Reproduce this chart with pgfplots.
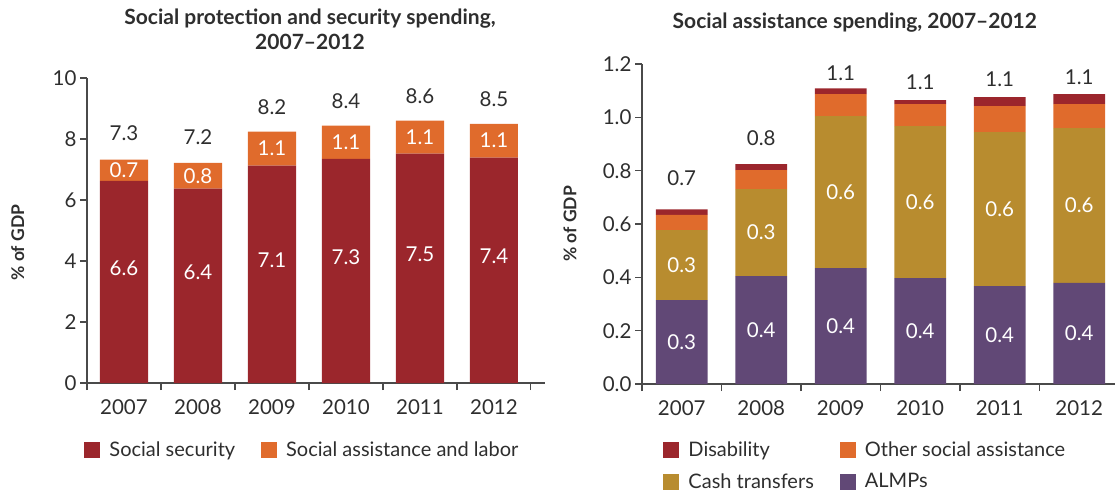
\documentclass[border=0pt]{standalone}
\usepackage{pgfplots}
\pgfplotsset{compat=1.18}
\usepackage{fontspec}
\setmainfont{Lato}
\definecolor{ssred}{HTML}{9B262C}
\definecolor{sorange}{HTML}{E06B2C}
\definecolor{cashgold}{HTML}{B88C2F}
\definecolor{almp}{HTML}{614876}
\definecolor{txt}{HTML}{2E2E2E}
\definecolor{axisgray}{HTML}{4A4A4A}
\pgfplotsset{
  sqlegend/.style={legend image code/.code={\fill[##1] (0pt,-8pt) rectangle (16pt,8pt);}},
  midlabels/.style={nodes near coords, point meta=explicit symbolic,
    nodes near coords style={anchor=center, text=white, font=\fontsize{20.5}{22}\selectfont}},
  toplabels/.style={nodes near coords, point meta=explicit symbolic, draw=none, fill=none, forget plot,
    nodes near coords style={anchor=center, text=txt, font=\fontsize{20.5}{22}\selectfont}},
  common/.style={
    scale only axis,
    clip=false,
    ybar stacked,
    bar width=0.65,
    axis x line*=bottom, axis y line*=left,
    axis line style={-, axisgray, line width=1.1pt},
    xmin=-0.5, ymin=0,
    xtick={-0.5,0.5,...,5.5}, xticklabels={},
    extra x ticks={0,1,2,3,4,5},
    extra x tick labels={2007,2008,2009,2010,2011,2012},
    extra x tick style={major tick length=0pt},
    xticklabel style={yshift=-13pt},
    tick align=outside, major tick length=7pt,
    every tick/.style={axisgray, line width=1.1pt},
    /pgf/number format/assume math mode=true,
    tick label style={font=\fontsize{20.5}{22}\selectfont, text=txt},
    ylabel style={font=\fontsize{17.5}{20}\selectfont\bfseries, text=txt, anchor=center},
    title style={font=\fontsize{21}{25}\selectfont\bfseries, text=txt, align=center},
    legend cell align=left,
    legend style={draw=none, fill=none, font=\fontsize{20}{22}\selectfont, text=txt,
      legend columns=2, row sep=11pt, inner sep=0pt,
      /tikz/every odd column/.append style={column sep=7pt},
      /tikz/every even column/.append style={column sep=24pt}},
  },
}
\begin{document}
\begin{tikzpicture}[x=1pt,y=1pt]
\path[use as bounding box] (0,0) rectangle (1115,493);
% Left chart
\begin{axis}[common, at={(87pt,110pt)}, anchor=south west, width=458pt, height=305pt,
  xmax=5.69, ymax=10, ytick={0,2,...,10},
  ylabel={\% of GDP}, ylabel style={at={(axis description cs:-0.151,0.46)}, rotate=0},
  title={Social protection and security spending,\\2007--2012},
  title style={at={(axis description cs:0.487,1)}, anchor=center, yshift=43pt},
  legend style={at={(axis description cs:-0.006,-0.22)}, anchor=west},
]
\addplot[fill=ssred, draw=none, sqlegend, midlabels, nodes near coords style={yshift=14pt}] coordinates {
  (0,6.63) [6.6] (1,6.37) [6.4] (2,7.13) [7.1] (3,7.35) [7.3] (4,7.52) [7.5] (5,7.39) [7.4]};
\addlegendentry{Social security}
\addplot[fill=sorange, draw=none, sqlegend, midlabels] coordinates {
  (0,0.69) [0.7] (1,0.85) [0.8] (2,1.11) [1.1] (3,1.09) [1.1] (4,1.08) [1.1] (5,1.11) [1.1]};
\addlegendentry{Social assistance and labor}
\addplot[toplabels] coordinates {
  (0,1.72) [7.3] (1,1.68) [7.2] (2,1.60) [8.2] (3,1.60) [8.4] (4,1.60) [8.6] (5,1.60) [8.5]};
\end{axis}
% Right chart
\begin{axis}[common, at={(642pt,109pt)}, anchor=south west, width=473pt, height=320pt,
  xmax=5.45, ymax=1.2, ytick={0,0.2,...,1.21},
  yticklabel style={/pgf/number format/fixed, /pgf/number format/fixed zerofill, /pgf/number format/precision=1},
  ylabel={\% of GDP}, ylabel style={at={(axis description cs:-0.152,0.5)}, rotate=0},
  title={Social assistance spending, 2007--2012},
  title style={at={(axis description cs:0.45,1)}, anchor=center, yshift=35pt},
  legend style={at={(axis description cs:0.045,-0.175)}, anchor=north west},
  reverse legend,
]
\addplot[fill=almp, draw=none, sqlegend, midlabels] coordinates {
  (0,0.315) [0.3] (1,0.405) [0.4] (2,0.435) [0.4] (3,0.3975) [0.4] (4,0.3675) [0.4] (5,0.379) [0.4]};
\addlegendentry{ALMPs}
\addplot[fill=cashgold, draw=none, sqlegend, midlabels] coordinates {
  (0,0.2625) [0.3] (1,0.326) [0.3] (2,0.570) [0.6] (3,0.570) [0.6] (4,0.5775) [0.6] (5,0.581) [0.6]};
\addlegendentry{Cash transfers}
\addplot[fill=sorange, draw=none, sqlegend] coordinates {
  (0,0.0565) (1,0.0715) (2,0.0825) (3,0.0825) (4,0.0975) (5,0.090)};
\addlegendentry{Other social assistance}
\addplot[fill=ssred, draw=none, sqlegend] coordinates {
  (0,0.021) (1,0.0225) (2,0.0215) (3,0.015) (4,0.0335) (5,0.0375)};
\addlegendentry{Disability}
\addplot[toplabels] coordinates {
  (0,0.234) [0.7] (1,0.194) [0.8] (2,0.114) [1.1] (3,0.134) [1.1] (4,0.136) [1.1] (5,0.128) [1.1]};
\end{axis}
\end{tikzpicture}
\end{document}
